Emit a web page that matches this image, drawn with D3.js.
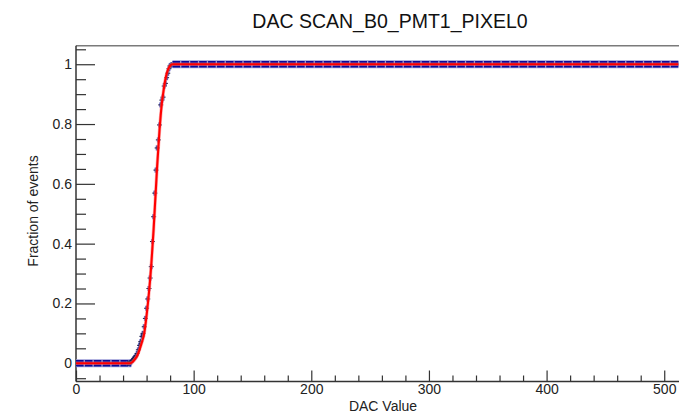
<!DOCTYPE html>
<html><head><meta charset="utf-8">
<script src="https://cdn.jsdelivr.net/npm/d3@7"></script>
<style>
body{margin:0;background:#fff}
svg{display:block;font-family:"Liberation Sans",Arial,sans-serif}
</style>
</head><body>
<svg id="c" width="679" height="414"></svg>
<script>
// ---- data ----
const chartTitle = "DAC SCAN_B0_PMT1_PIXEL0";
const xLabel = "DAC Value";
const yLabel = "Fraction of events";
const xTickValues = [0, 100, 200, 300, 400, 500];
const yTickValues = [0, 0.2, 0.4, 0.6, 0.8, 1];
const yTickLabels = ["0", "0.2", "0.4", "0.6", "0.8", "1"];

// plateau ranges (DAC from, DAC to) and their fraction
const plateauDac = [[0, 47], [82, 512]];
const plateauFraction = [0, 1];

// individual points in the turn-on region
const pointDac = [44,45,46,47,48,49,50,51,52,53,54,55,56,57,58,59,60,61,62,63,64,65,66,67,68,69,70,71,72,73,74,75,76,77,78,79,80,81];
const pointFraction = [0,0,0.002,0.005,0.01,0.015,0.02,0.025,0.033,0.045,0.06,0.072,0.09,0.1,0.122,0.15,0.184,0.215,0.25,0.285,0.323,0.407,0.49,0.569,0.646,0.72,0.747,0.797,0.864,0.88,0.89,0.927,0.936,0.955,0.97,0.985,0.995,0.998];

// fitted curve (red)
const fitDac = [0,46,48,50,52,54,56,58,60,62,63,64,65,66,67,68,69,70,71,72,73,74,76,78,80,82,84,512];
const fitFraction = [0,0,0.004,0.013,0.025,0.045,0.07,0.1,0.16,0.235,0.28,0.33,0.39,0.45,0.52,0.59,0.66,0.72,0.78,0.83,0.87,0.9,0.95,0.98,0.995,1,1,1];

// ---- layout ----
const svg = d3.select("#c");
const mL = 76, mT = 45.7, mB = 381.5;
const x = d3.scaleLinear().domain([0, 514]).range([mL, mL + 514 * 1.17647]);
const y = d3.scaleLinear().domain([-0.061, 1.062]).range([mB, mT]);
const mR = x.range()[1];

// frame (top border, gray)
svg.append("line").attr("x1", mL).attr("x2", mR).attr("y1", mT).attr("y2", mT)
  .attr("stroke", "#7a7a7a").attr("stroke-width", 1.6);

// X axis
const xAxis = d3.axisBottom(x).tickValues(xTickValues).tickSize(-11).tickPadding(3).tickFormat(d3.format("d"));
const gx = svg.append("g").attr("transform", `translate(0,${mB})`).call(xAxis);
gx.select(".domain").remove();
gx.selectAll(".tick line").attr("stroke", "#333").attr("stroke-width", 1.2);
gx.selectAll(".tick text").attr("font-size", 14).attr("fill", "#222");
const xMinor = d3.axisBottom(x).tickValues(d3.range(0, 514, 20).filter(v => v % 100 !== 0)).tickSize(-6).tickFormat("");
const gxm = svg.append("g").attr("transform", `translate(0,${mB})`).call(xMinor);
gxm.select(".domain").remove();
gxm.selectAll(".tick line").attr("stroke", "#333").attr("stroke-width", 1.2);
svg.append("line").attr("x1", mL).attr("x2", mR).attr("y1", mB).attr("y2", mB)
  .attr("stroke", "#333").attr("stroke-width", 1.5);

// Y axis
const yAxis = d3.axisLeft(y).tickValues(yTickValues).tickSize(-19).tickPadding(4)
  .tickFormat((d, i) => yTickLabels[i]);
const gy = svg.append("g").attr("transform", `translate(${mL},0)`).call(yAxis);
gy.select(".domain").remove();
gy.selectAll(".tick line").attr("stroke", "#333").attr("stroke-width", 1.2);
gy.selectAll(".tick text").attr("font-size", 14).attr("fill", "#222");
const yMinorVals = d3.range(-0.05, 1.06, 0.05).map(v => +v.toFixed(2)).filter(v => Math.round(v * 100) % 20 !== 0);
const yMinor = d3.axisLeft(y).tickValues(yMinorVals).tickSize(-10).tickFormat("");
const gym = svg.append("g").attr("transform", `translate(${mL},0)`).call(yMinor);
gym.select(".domain").remove();
gym.selectAll(".tick line").attr("stroke", "#333").attr("stroke-width", 1.2);
svg.append("line").attr("x1", mL).attr("x2", mL).attr("y1", mT).attr("y2", mB)
  .attr("stroke", "#333").attr("stroke-width", 1.5);

// plateau bands of data points
const plateauData = plateauDac.map((r, i) => ({ x0: r[0], x1: r[1], f: plateauFraction[i] }));
svg.append("g").selectAll("line").data(plateauData).join("line")
  .attr("x1", d => x(d.x0)).attr("x2", d => x(d.x1))
  .attr("y1", d => y(d.f)).attr("y2", d => y(d.f))
  .attr("stroke", "#9a9ad6").attr("stroke-width", 8.2);
svg.append("g").selectAll("line").data(plateauData).join("line")
  .attr("x1", d => x(d.x0)).attr("x2", d => x(d.x1))
  .attr("y1", d => y(d.f)).attr("y2", d => y(d.f))
  .attr("stroke", "#0b0b98").attr("stroke-width", 6.4)
  .attr("stroke-dasharray", "7.6,1.3");

// turn-on points
const pts = pointDac.map((d, i) => ({ d, f: pointFraction[i] }));
const gp = svg.append("g");
gp.selectAll("rect").data(pts).join("rect")
  .attr("x", p => x(p.d) - 1.5).attr("y", p => y(p.f) - 2.5)
  .attr("width", 3).attr("height", 5).attr("fill", "#3a3ab8").attr("opacity", 0.75);
gp.selectAll("path").data(pts).join("path")
  .attr("d", p => `M${x(p.d) - 2.5},${y(p.f)}h5M${x(p.d)},${y(p.f) - 2.5}v5`)
  .attr("stroke", "#141440").attr("stroke-width", 1);

// fit curve
const fit = fitDac.map((d, i) => [d, fitFraction[i]]);
const fitLine = d3.line().x(p => x(p[0])).y(p => y(p[1])).curve(d3.curveMonotoneX);
svg.append("path").datum(fit).attr("d", fitLine)
  .attr("fill", "none").attr("stroke", "#ff8080").attr("stroke-width", 3.4).attr("opacity", 0.6);
svg.append("path").datum(fit).attr("d", fitLine)
  .attr("fill", "none").attr("stroke", "#f00").attr("stroke-width", 2.1);

// titles
svg.append("text").attr("x", 390).attr("y", 28).attr("text-anchor", "middle")
  .attr("font-size", 19.5).attr("fill", "#111").text(chartTitle);
svg.append("text").attr("x", 383).attr("y", 411).attr("text-anchor", "middle")
  .attr("font-size", 14).attr("fill", "#222").text(xLabel);
svg.append("text").attr("transform", "translate(38,211) rotate(-90)").attr("text-anchor", "middle")
  .attr("font-size", 14).attr("fill", "#222").text(yLabel);
</script>
</body></html>
